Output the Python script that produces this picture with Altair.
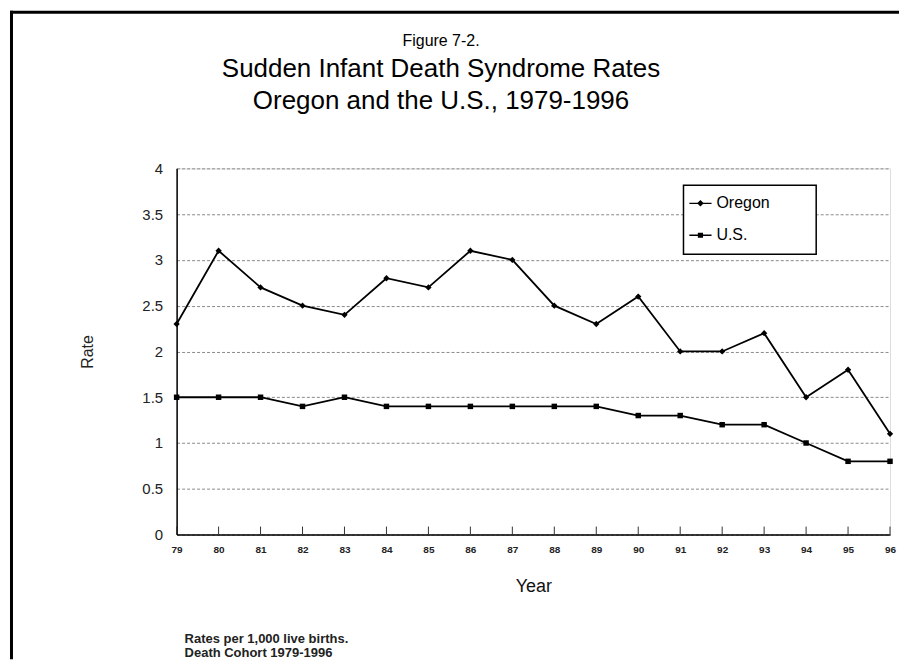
import altair as alt
import pandas as pd

years = ["79", "80", "81", "82", "83", "84", "85", "86", "87", "88",
         "89", "90", "91", "92", "93", "94", "95", "96"]
oregon = [2.3, 3.1, 2.7, 2.5, 2.4, 2.8, 2.7, 3.1, 3.0, 2.5,
          2.3, 2.6, 2.0, 2.0, 2.2, 1.5, 1.8, 1.1]
us = [1.5, 1.5, 1.5, 1.4, 1.5, 1.4, 1.4, 1.4, 1.4, 1.4,
      1.4, 1.3, 1.3, 1.2, 1.2, 1.0, 0.8, 0.8]
series_names = ["Oregon", "U.S."]
y_ticks = [0, 0.5, 1, 1.5, 2, 2.5, 3, 3.5, 4]
title_top = "Figure 7-2."
title_lines = ["Sudden Infant Death Syndrome Rates", "Oregon and the U.S., 1979-1996"]
footnotes = ["Rates per 1,000 live births.", "Death Cohort 1979-1996"]

df = pd.DataFrame({
    "Year": years * 2,
    "Rate": oregon + us,
    "Series": [series_names[0]] * len(years) + [series_names[1]] * len(years),
})
ticks_df = pd.DataFrame({"Year": years})
one = pd.DataFrame({"k": [0]})

FONT = "Liberation Sans"
W, H = 715, 367

xenc = alt.X(
    "Year:O", sort=years,
    scale=alt.Scale(type="point", padding=0),
    axis=alt.Axis(title="Year", labelAngle=0, ticks=False, grid=False,
                  domainColor="black", domainWidth=1.5,
                  labelFont=FONT, labelFontSize=10, labelFontWeight="bold",
                  labelColor="#222", labelPadding=10,
                  titleFont=FONT, titleFontSize=18, titleFontWeight="normal",
                  titleColor="#111", titlePadding=23),
)
yenc = alt.Y(
    "Rate:Q", scale=alt.Scale(domain=[0, 4]),
    axis=alt.Axis(title="Rate", values=y_ticks, format="~g", ticks=False,
                  grid=True, gridColor="#8a8a8a", gridDash=[3, 2], gridWidth=1,
                  domainColor="black", domainWidth=1.5,
                  labelFont=FONT, labelFontSize=15, labelColor="#222",
                  labelPadding=14,
                  titleFont=FONT, titleFontSize=16, titleFontWeight="normal",
                  titleColor="#222", titlePadding=46),
)

lines = alt.Chart(df).mark_line(color="black", strokeWidth=1.8).encode(
    x=xenc, y=yenc, detail="Series:N")

points_or = alt.Chart(df).transform_filter(alt.datum.Series == series_names[0]).mark_point(
    filled=True, color="black", size=40, opacity=1, shape="diamond").encode(x=xenc, y=yenc)
points_us = alt.Chart(df).transform_filter(alt.datum.Series == series_names[1]).mark_point(
    filled=True, color="black", size=30, opacity=1, shape="square").encode(x=xenc, y=yenc)

legend_box = alt.Chart(one).mark_rect(fill="white", stroke="black", strokeWidth=1.5).encode(
    x=alt.value(508), x2=alt.value(641), y=alt.value(17), y2=alt.value(86))

oregon_path = "M-1.5,-0.09H1.5V0.09H-1.5Z M0,-0.45L0.45,0L0,0.45L-0.45,0Z"
us_path = "M-1.5,-0.09H1.5V0.09H-1.5Z M-0.35,-0.35H0.35V0.35H-0.35Z"
legend_layer = alt.Chart(df).mark_point(filled=True, color="black", opacity=0).encode(
    x=xenc, y=yenc,
    shape=alt.Shape("Series:N", scale=alt.Scale(domain=series_names, range=[oregon_path, us_path]),
                    legend=alt.Legend(
                        title=None, orient="none", legendX=517, legendY=27,
                        padding=0, labelFont=FONT, labelFontSize=16, labelColor="black",
                        symbolSize=220, symbolOpacity=1, symbolFillColor="black",
                        symbolStrokeWidth=0,
                        labelOffset=8, rowPadding=16)))

inner_ticks = alt.Chart(ticks_df).mark_rule(color="#333", strokeWidth=1).encode(
    x=xenc, y=alt.value(H), y2=alt.value(H - 8))

def text_layer(txt, xv, yv, size, weight="normal", align="center", color="black"):
    return alt.Chart(one).mark_text(align=align, baseline="alphabetic", font=FONT,
                                    fontSize=size, fontWeight=weight, color=color).encode(
        x=alt.value(xv), y=alt.value(yv), text=alt.value(txt))

t0 = text_layer(title_top, 265, -123, 16)
t1 = text_layer(title_lines[0], 265, -92, 26)
t2 = text_layer(title_lines[1], 265, -60, 26)
n0 = text_layer(footnotes[0], 8, 476, 13, "bold", "left", "#222")
n1 = text_layer(footnotes[1], 8, 490, 13, "bold", "left", "#222")

frame_top = alt.Chart(one).mark_rule(color="black", strokeWidth=3).encode(
    x=alt.value(-167), x2=alt.value(724), y=alt.value(-156.5))
frame_left = alt.Chart(one).mark_rule(color="black", strokeWidth=3).encode(
    x=alt.value(-165.5), y=alt.value(-158), y2=alt.value(492))

chart = alt.layer(
    lines, points_or, points_us, legend_box, legend_layer, inner_ticks,
    t0, t1, t2, n0, n1, frame_top, frame_left
).properties(
    width=W, height=H, padding=0,
).configure_view(stroke="black", strokeWidth=1.5).configure(background="white")

chart.save("out.html", embed_options={"renderer": "svg", "actions": False})
